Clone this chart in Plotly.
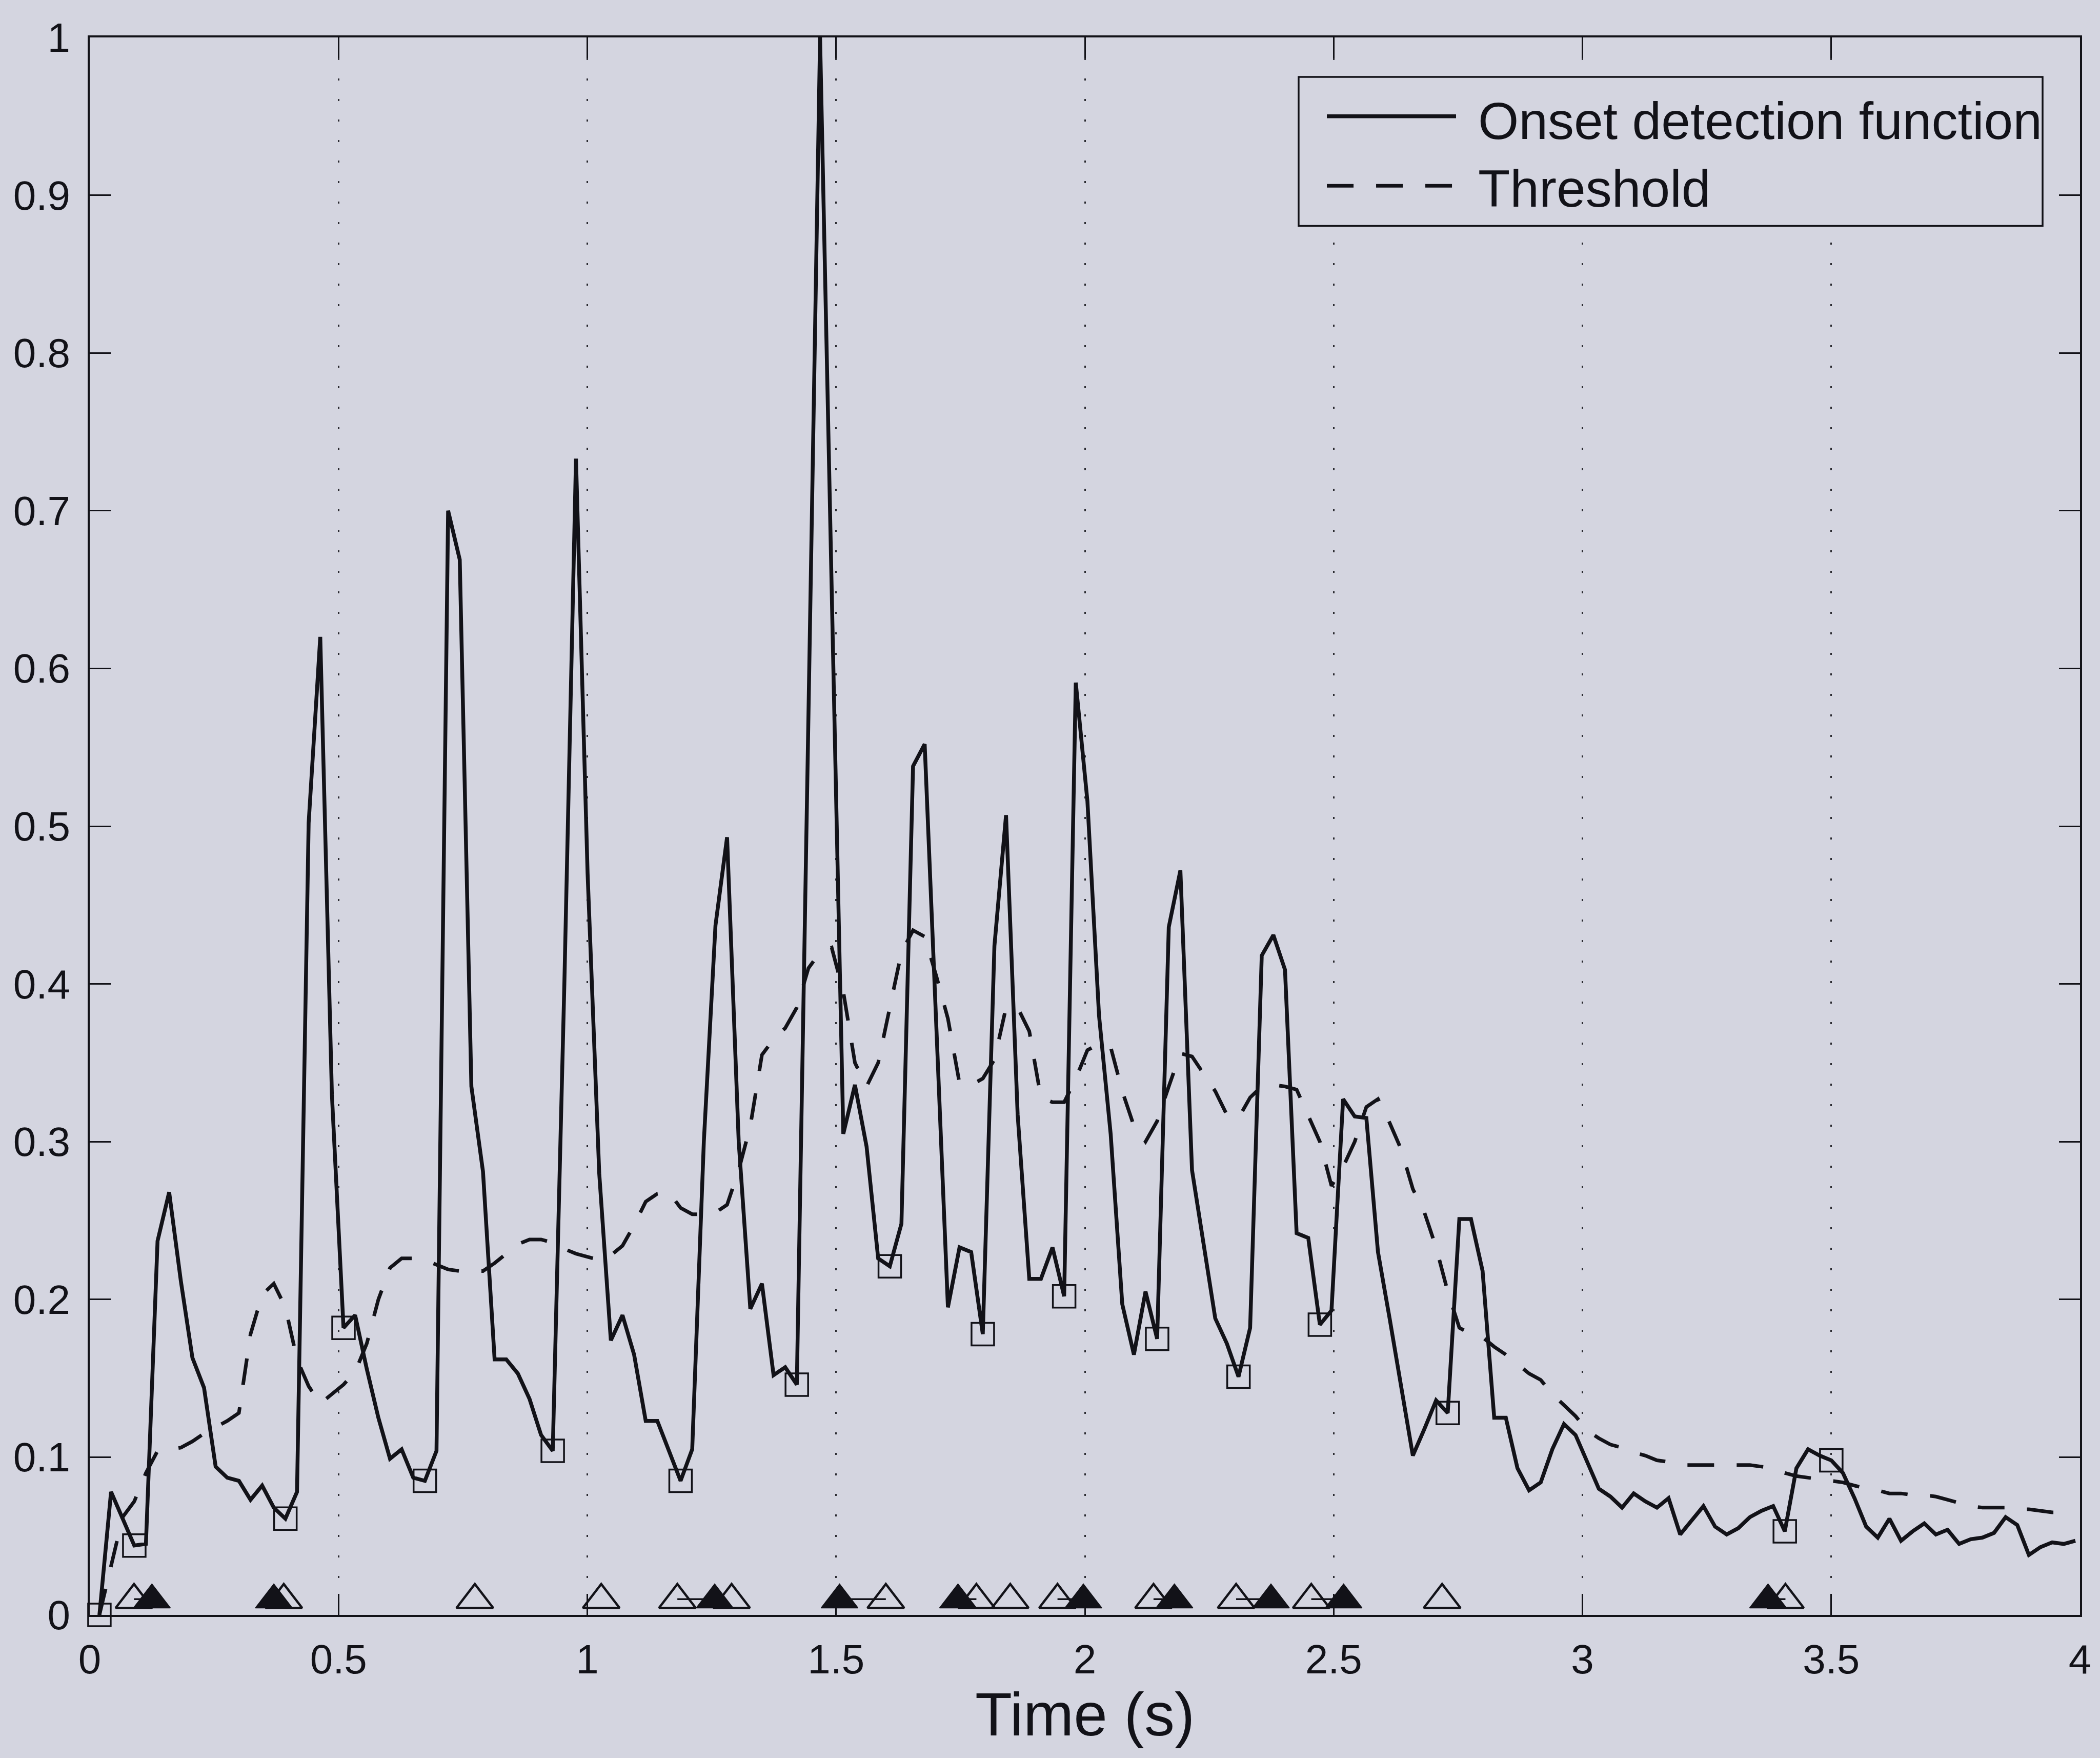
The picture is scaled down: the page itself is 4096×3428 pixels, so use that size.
import numpy as np
import plotly.graph_objects as go

# ---------------- data ----------------
T0 = 0.0195      # time of first frame (s)
HOP = 0.02336    # frame hop (s)

odf = [
    0.0, 0.078, 0.061, 0.044, 0.045, 0.237, 0.268, 0.212, 0.163, 0.144,
    0.094, 0.087, 0.085, 0.073, 0.082, 0.068, 0.061, 0.078, 0.502, 0.620,
    0.33, 0.182, 0.19, 0.156, 0.125, 0.099, 0.105, 0.087, 0.085, 0.104,
    0.700, 0.669, 0.335, 0.281, 0.162, 0.162, 0.153, 0.137, 0.114, 0.104,
    0.40, 0.733, 0.47, 0.28, 0.174, 0.190, 0.165, 0.123, 0.123, 0.104,
    0.085, 0.105, 0.30, 0.437, 0.493, 0.30, 0.194, 0.21, 0.152, 0.157,
    0.146, 0.57, 1.0, 0.65, 0.305, 0.336, 0.297, 0.226, 0.221, 0.248,
    0.538, 0.552, 0.37, 0.195, 0.233, 0.23, 0.178, 0.424, 0.507, 0.317,
    0.213, 0.213, 0.233, 0.202, 0.591, 0.516, 0.38, 0.305, 0.197, 0.165,
    0.205, 0.175, 0.436, 0.472, 0.282, 0.233, 0.188, 0.172, 0.151, 0.182,
    0.418, 0.431, 0.409, 0.242, 0.239, 0.184, 0.193, 0.327, 0.316, 0.315,
    0.23, 0.188, 0.143, 0.101, 0.118, 0.136, 0.128, 0.251, 0.251, 0.218,
    0.125, 0.125, 0.093, 0.079, 0.084, 0.105, 0.121, 0.114, 0.097, 0.08,
    0.075, 0.068, 0.077, 0.072, 0.068, 0.074, 0.051, 0.06, 0.069, 0.056,
    0.051, 0.055, 0.062, 0.066, 0.069, 0.053, 0.093, 0.105, 0.101, 0.098,
    0.09, 0.074, 0.056, 0.049, 0.061, 0.047, 0.053, 0.058, 0.051, 0.054,
    0.045, 0.048, 0.049, 0.052, 0.062, 0.057, 0.038, 0.043, 0.046, 0.045,
    0.047,
]

threshold = [
    0.0, 0.03, 0.062, 0.072, 0.09, 0.104, 0.105, 0.106, 0.11, 0.115,
    0.119, 0.123, 0.128, 0.178, 0.203, 0.21, 0.195, 0.162, 0.145, 0.134,
    0.14, 0.146, 0.154, 0.172, 0.2, 0.22, 0.226, 0.226, 0.225, 0.222,
    0.219, 0.218, 0.218, 0.218, 0.223, 0.229, 0.235, 0.238, 0.238, 0.236,
    0.232, 0.229, 0.227, 0.225, 0.228, 0.234, 0.247, 0.262, 0.267, 0.268,
    0.258, 0.254, 0.254, 0.255, 0.26, 0.282, 0.31, 0.355, 0.365, 0.372,
    0.385, 0.41, 0.42, 0.423, 0.395, 0.35, 0.335, 0.35, 0.385, 0.42,
    0.434, 0.43, 0.405, 0.378, 0.337, 0.336, 0.34, 0.352, 0.385, 0.385,
    0.37, 0.328, 0.325, 0.325, 0.34, 0.358, 0.362, 0.36, 0.332, 0.31,
    0.3, 0.313, 0.335, 0.356, 0.354, 0.343, 0.332, 0.317, 0.315, 0.328,
    0.335, 0.336, 0.335, 0.333, 0.316, 0.3, 0.272, 0.284, 0.3, 0.322,
    0.327, 0.312, 0.295, 0.27, 0.255, 0.233, 0.205, 0.182, 0.178, 0.176,
    0.17, 0.165, 0.159, 0.153, 0.149, 0.14, 0.133, 0.126, 0.117, 0.112,
    0.108, 0.106, 0.103, 0.101, 0.098, 0.097, 0.095, 0.095, 0.095, 0.095,
    0.095, 0.095, 0.095, 0.094, 0.093, 0.09, 0.088, 0.087, 0.086, 0.085,
    0.084, 0.082, 0.08, 0.079, 0.077, 0.077, 0.076, 0.076, 0.075, 0.073,
    0.071, 0.069, 0.068, 0.068, 0.068, 0.067, 0.067, 0.066, 0.065, 0.065,
    0.064,
]

# frames marked with squares (onset candidates)
square_frames = [0, 3, 16, 21, 28, 39, 50, 60, 68, 76, 83, 91, 98, 105, 116, 145, 149]

# onset times shown as triangles near the bottom
filled_onsets = [0.125, 0.370, 1.256, 1.507, 1.745, 1.997, 2.180, 2.374, 2.520, 3.373]
open_onsets = [0.089, 0.390, 0.774, 1.028, 1.181, 1.290, 1.600, 1.782, 1.850,
               1.945, 2.138, 2.304, 2.455, 2.718, 3.408]
# matched pairs (open, filled) joined by a short line
pairs = [(0.089, 0.125), (0.390, 0.370), (1.181, 1.256), (1.600, 1.507),
         (1.782, 1.745), (1.945, 1.997), (2.138, 2.180), (2.304, 2.374),
         (2.455, 2.520), (3.408, 3.373)]
MARK_LEVEL = 0.0095
PAIR_LEVEL = 0.0100

x_ticks = [0, 0.5, 1, 1.5, 2, 2.5, 3, 3.5, 4]
x_ticklabels = ["0", "0.5", "1", "1.5", "2", "2.5", "3", "3.5", "4"]
y_ticks = [0, 0.1, 0.2, 0.3, 0.4, 0.5, 0.6, 0.7, 0.8, 0.9, 1]
y_ticklabels = ["0", "0.1", "0.2", "0.3", "0.4", "0.5", "0.6", "0.7", "0.8", "0.9", "1"]

legend_labels = ["Onset detection function", "Threshold"]
x_title = "Time (s)"

# ---------------- figure ----------------
t = T0 + HOP * np.arange(len(odf))
odf = np.array(odf)
threshold = np.array(threshold)

BG = "#d4d5e0"
INK = "#121218"
FONT = "Liberation Sans, Arial, sans-serif"
DASH = "52px,44px"

fig = go.Figure()

fig.add_trace(go.Scatter(x=t, y=threshold, mode="lines",
                         line=dict(color=INK, width=7, dash=DASH),
                         showlegend=False, hoverinfo="skip"))
fig.add_trace(go.Scatter(x=t, y=odf, mode="lines",
                         line=dict(color=INK, width=7.5),
                         showlegend=False, hoverinfo="skip"))

fig.add_trace(go.Scatter(x=t[square_frames], y=odf[square_frames], mode="markers",
                         marker=dict(symbol="square-open", size=44,
                                     color=INK, line=dict(width=3.5, color=INK)),
                         cliponaxis=False, showlegend=False, hoverinfo="skip"))

px_, py_ = [], []
for a, b in pairs:
    px_ += [a, b, None]
    py_ += [PAIR_LEVEL, PAIR_LEVEL, None]
fig.add_trace(go.Scatter(x=px_, y=py_, mode="lines",
                         line=dict(color=INK, width=3.5),
                         showlegend=False, hoverinfo="skip"))

fig.add_trace(go.Scatter(x=open_onsets, y=[MARK_LEVEL] * len(open_onsets), mode="markers",
                         marker=dict(symbol="triangle-up-open", size=62, color=INK,
                                     line=dict(width=4.5, color=INK)),
                         showlegend=False, hoverinfo="skip"))
fig.add_trace(go.Scatter(x=filled_onsets, y=[MARK_LEVEL] * len(filled_onsets), mode="markers",
                         marker=dict(symbol="triangle-up", size=62, color=INK,
                                     line=dict(width=2, color=INK)),
                         showlegend=False, hoverinfo="skip"))

axis_common = dict(
    ticks="inside", ticklen=41, tickwidth=2.5, tickcolor=INK,
    showline=True, linewidth=4, linecolor=INK, mirror="allticks",
    zeroline=False, tickfont=dict(family=FONT, size=80, color=INK),
)

fig.update_xaxes(range=[0, 4], tickmode="array", tickvals=x_ticks, ticktext=x_ticklabels,
                 showgrid=True, gridcolor="#2a2a30", gridwidth=2.5, griddash="4px,36px",
                 ticklabelstandoff=14, **axis_common)
fig.update_yaxes(range=[0, 1], tickmode="array", tickvals=y_ticks, ticktext=y_ticklabels,
                 showgrid=False, ticklabelstandoff=18, **axis_common)

# manual legend (box, samples, labels) in paper coordinates
shapes = [
    dict(type="rect", xref="paper", yref="paper", x0=0.6074, x1=0.9812, y0=0.8805, y1=0.975,
         line=dict(color=INK, width=3.5), fillcolor=BG, layer="above"),
    dict(type="line", xref="paper", yref="paper", x0=0.6216, x1=0.6865, y0=0.950, y1=0.950,
         line=dict(color=INK, width=7.5), layer="above"),
    dict(type="line", xref="paper", yref="paper", x0=0.6216, x1=0.6865, y0=0.906, y1=0.906,
         line=dict(color=INK, width=7, dash=DASH), layer="above"),
]
annotations = [
    dict(xref="paper", yref="paper", x=0.697, y=0.947, text=legend_labels[0], showarrow=False,
         xanchor="left", yanchor="middle", font=dict(family=FONT, size=102, color=INK)),
    dict(xref="paper", yref="paper", x=0.697, y=0.904, text=legend_labels[1], showarrow=False,
         xanchor="left", yanchor="middle", font=dict(family=FONT, size=102, color=INK)),
    dict(xref="paper", yref="paper", x=0.5, y=-0.063, text=x_title, showarrow=False,
         xanchor="center", yanchor="middle", font=dict(family=FONT, size=118, color=INK)),
]

fig.update_layout(
    width=4096, height=3428,
    margin=dict(l=175, r=39, t=73, b=279),
    paper_bgcolor=BG, plot_bgcolor=BG,
    shapes=shapes, annotations=annotations,
    showlegend=False,
)

fig.write_html("out.html")
